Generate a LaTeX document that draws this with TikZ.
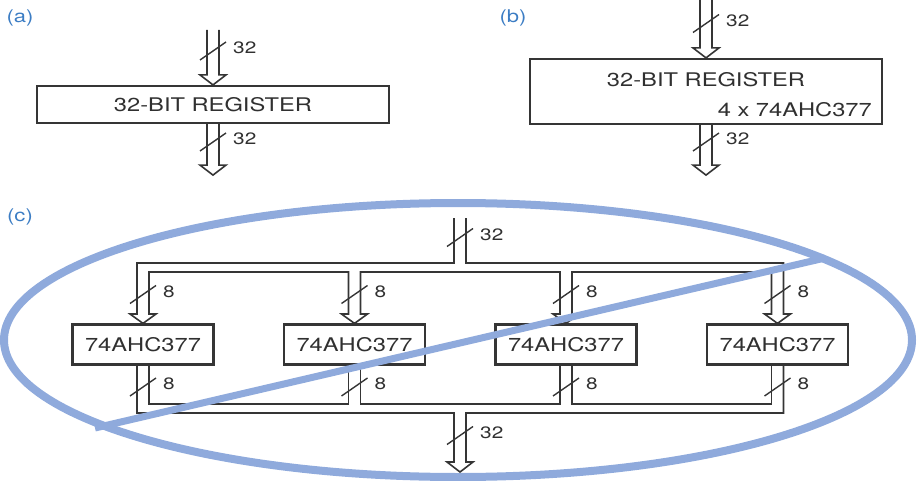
\documentclass[tikz,border=0pt]{standalone}
\usepackage{fontspec}
\setmainfont[FakeStretch=1.26]{TeX Gyre Heros}
\usetikzlibrary{calc}
\definecolor{ln}{HTML}{353535}
\definecolor{tx}{HTML}{303030}
\definecolor{lab}{HTML}{3C7DC4}
\definecolor{oval}{HTML}{8FAADC}
\begin{document}
\begin{tikzpicture}[x=1pt,y=-1pt,
 bus/.style={draw=ln,line width=1.6pt,line join=miter},
 maintext/.style={text=tx,font=\fontsize{18.8}{20}\selectfont,inner sep=0pt},
 regbox/.style={maintext,draw=ln,line width=2.2pt},
 chip/.style={regbox,minimum width=141pt,minimum height=40pt},
 buslabel/.style={text=tx,font=\fontsize{16.5}{18}\selectfont,inner sep=0pt,anchor=west},
 partlabel/.style={text=lab,font=\fontsize{17.5}{19}\selectfont,inner sep=0pt},
 slashline/.style={draw=ln,line width=1.4pt},
 pics/slash/.style={code={\draw[slashline] (-13,9) -- (13,-9); \node[buslabel] (-lbl) at (20,-3) {#1};}},
 pics/busarrow/.style={code={\draw[bus] (-6,-#1) -- (-6,-10) -- (-13,-10) -- (0,0) -- (13,-10) -- (6,-10) -- (6,-#1);}},
]
\useasboundingbox (0,0) rectangle (917,481);

% (a)
\node[partlabel] (la) at (20,18) {(a)};
\node[regbox,minimum width=352pt,minimum height=37pt] (ra) at (213,104.5) {32-BIT REGISTER};
\pic at (ra.north) {busarrow=55};
\coordinate (aout) at ($(ra.south)+(0,51)$);
\pic at (aout) {busarrow=51};
\pic (sa1) at (213,51) {slash=32};
\pic (sa2) at (213,142) {slash=32};

% (b)
\node[partlabel] (lb) at (513,18) {(b)};
\node[regbox,minimum width=352pt,minimum height=65pt] (rb) at (706,91.5) {};
\node[maintext] (rbt) at (706,80) {32-BIT REGISTER};
\node[maintext,anchor=east] (rbs) at (872,110) {4 x 74AHC377};
\pic at (rb.north) {busarrow=58};
\coordinate (bout) at ($(rb.south)+(0,50)$);
\pic at (bout) {busarrow=50};
\pic (sb1) at (706,23.5) {slash=32};
\pic (sb2) at (706,142) {slash=32};

% (c)
\node[partlabel] (lc) at (20,217) {(c)};
\node[chip] (c1) at (143,344.5) {74AHC377};
\node[chip] (c2) at (354.5,344.5) {74AHC377};
\node[chip] (c3) at (566,344.5) {74AHC377};
\node[chip] (c4) at (777.5,344.5) {74AHC377};
\coordinate (tin) at (460,218);
\coordinate (tout) at (460,472);

\draw[bus] ($(tin)+(-6,0)$) |- (137,263) -- (137,314) -- (130,314) -- (c1.north) -- (156,314) -- (149,314)
  |- (348.5,272) -- (348.5,314) -- (341.5,314) -- (c2.north) -- (367.5,314) -- (360.5,314)
  |- (560,272) -- (560,314) -- (553,314) -- (c3.north) -- (579,314) -- (572,314)
  |- (771.5,272) -- (771.5,314) -- (764.5,314) -- (c4.north) -- (790.5,314) -- (783.5,314)
  |- (466,263) -- ($(tin)+(6,0)$);

\draw[bus] (c1.south -| 137,0) |- (454,413) -- (454,462) -- (447,462) -- (tout) -- (473,462) -- (466,462)
  |- (783.5,413) -- (c4.south -| 783.5,0);
\draw[bus] (c1.south -| 149,0) |- (348.5,404) -- (c2.south -| 348.5,0);
\draw[bus] (c2.south -| 360.5,0) |- (560,404) -- (c3.south -| 560,0);
\draw[bus] (c3.south -| 572,0) |- (771.5,404) -- (c4.south -| 771.5,0);

\pic (sc0) at (460,237.5) {slash=32};
\pic (sc1) at (143,294.5) {slash=8};
\pic (sc2) at (354.5,294.5) {slash=8};
\pic (sc3) at (566,294.5) {slash=8};
\pic (sc4) at (777.5,294.5) {slash=8};
\pic (sd1) at (143,387) {slash=8};
\pic (sd2) at (354.5,387) {slash=8};
\pic (sd3) at (566,387) {slash=8};
\pic (sd4) at (777.5,387) {slash=8};
\pic (sd0) at (460,435.5) {slash=32};

% crossed-out oval
\draw[oval,line width=8pt] (458,340) ellipse [x radius=454, y radius=137];
\draw[oval,line width=7pt] (95,428) -- (825,258);
\end{tikzpicture}
\end{document}
